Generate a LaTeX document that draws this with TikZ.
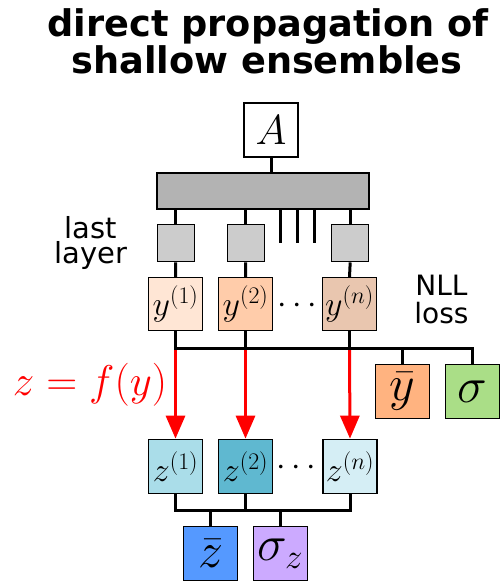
\RequirePackage{fix-cm}
\documentclass[tikz,border=0pt]{standalone}
\usepackage[no-math]{fontspec}
\setmainfont{DejaVu Sans}
\usetikzlibrary{arrows.meta}
\definecolor{ycolA}{HTML}{FFE6D5}
\definecolor{ycolB}{HTML}{FFCCAA}
\definecolor{ycolN}{HTML}{E9C6AF}
\definecolor{ybarcol}{HTML}{FFB380}
\definecolor{sigcol}{HTML}{AADE87}
\definecolor{zcolA}{HTML}{AADDE9}
\definecolor{zcolB}{HTML}{5FB8D0}
\definecolor{zcolN}{HTML}{D5EEF5}
\definecolor{zbarcol}{HTML}{5599FF}
\definecolor{sigzcol}{HTML}{CCAAFF}
\definecolor{barcol}{HTML}{B3B3B3}
\definecolor{smallcol}{HTML}{CCCCCC}
\begin{document}
\begin{tikzpicture}[x=1pt,y=-1pt,
  box/.style={draw=black, line width=1.3pt, minimum width=54pt, minimum height=54pt, inner sep=0pt},
  smallbox/.style={draw=black, line width=1.3pt, fill=smallcol, minimum width=37pt, minimum height=37pt, inner sep=0pt},
  conn/.style={draw=black, line width=3pt, line join=miter},
  redarrow/.style={draw=red, line width=3pt, -{Triangle[length=23pt,width=19pt]}},
  midmath/.style={font=\fontsize{34}{40}\selectfont},
  bigmath/.style={font=\fontsize{50}{60}\selectfont},
  lbl/.style={anchor=north, inner sep=0pt, align=center}]
\useasboundingbox (0,0) rectangle (501,581);

% title
\node[anchor=base, font=\fontsize{36.7}{36.7}\bfseries\selectfont] (title1) at (268,36.7) {direct propagation of};
\node[anchor=base, font=\fontsize{36.7}{36.7}\bfseries\selectfont] (title2) at (267,73.3) {shallow ensembles};

% top
\node[box, fill=white, font=\fontsize{42}{50}\selectfont] (A) at (271,130) {$A$};
\node[draw=black, line width=1.3pt, fill=barcol, minimum width=212pt, minimum height=36pt, inner sep=0pt] (bar) at (263,191) {};
\node[smallbox] (g1) at (175.7,243.3) {};
\node[smallbox] (g2) at (245.7,243.3) {};
\node[smallbox] (g3) at (350.2,243.3) {};
\coordinate (t1) at (280,243.3);
\coordinate (t2) at (297.3,243.3);
\coordinate (t3) at (314.3,243.3);

\node[box, fill=ycolA, minimum height=53pt, midmath] (y1) at (175.5,304) {$y^{(1)}$};
\node[box, fill=ycolB, minimum height=53pt, midmath] (y2) at (245.5,304) {$y^{(2)}$};
\node[box, fill=ycolN, minimum height=53pt, midmath] (yn) at (349.5,304) {$y^{(n)}$};
\node[midmath, anchor=base] (dotsy) at (297.5,313.5) {$\cdots$};

\node[lbl, font=\fontsize{29}{25}\selectfont] (lastlayer) at (90.8,216.7) {last\\layer};
\node[lbl, font=\fontsize{28}{28}\selectfont] (nllloss) at (441.5,274.6) {NLL\\loss};

\node[box, fill=ybarcol, bigmath] (ybar) at (402.7,391.7) {$\bar{y}$};
\node[box, fill=sigcol, bigmath] (sig) at (472.3,391.7) {$\sigma$};

\node[anchor=base, text=red, font=\fontsize{43}{50}\selectfont] (fy) at (90,395.5) {$z = f(y)$};

\node[box, fill=zcolA, midmath] (z1) at (175.5,466.3) {$z^{(1)}$};
\node[box, fill=zcolB, midmath] (z2) at (245.5,466.3) {$z^{(2)}$};
\node[box, fill=zcolN, midmath] (zn) at (350,466.3) {$z^{(n)}$};
\node[midmath, anchor=base] (dotsz) at (296,475.5) {$\cdots$};

\node[box, fill=zbarcol, bigmath] (zbar) at (210.5,553.7) {$\bar{z}$};
\node[box, fill=sigzcol, bigmath] (sigz) at (280.3,553.7) {$\sigma_z$};

\coordinate (hl1) at (175.5,348.3);
\coordinate (hl2) at (175.5,510.3);

% red arrows
\draw[redarrow] (y1.south |- hl1) -- (z1.north);
\draw[redarrow] (y2.south |- hl1) -- (z2.north);
\draw[redarrow] (yn.south |- hl1) -- (zn.north);

% connectors
\draw[conn] (A.south) -- (A.south |- bar.north);
\draw[conn] (g1.north |- bar.south) -- (g1.north);
\draw[conn] (g2.north |- bar.south) -- (g2.north);
\draw[conn] (g3.north |- bar.south) -- (g3.north);
\draw[conn] (t1 |- bar.south) -- (t1);
\draw[conn] (t2 |- bar.south) -- (t2);
\draw[conn] (t3 |- bar.south) -- (t3);
\draw[conn] (g1.south) -- (y1.north);
\draw[conn] (g2.south) -- (y2.north);
\draw[conn] (g3.south) -- (yn.north);

\draw[conn] (y1.south) |- (sig.north |- hl1) -- (sig.north);
\draw[conn] (y2.south) -- (y2.south |- hl1);
\draw[conn] (yn.south) -- (yn.south |- hl1);
\draw[conn] (ybar.north) -- (ybar.north |- hl1);

\draw[conn] (z1.south) |- (zn.south |- hl2) -- (zn.south);
\draw[conn] (z2.south) -- (z2.south |- hl2);
\draw[conn] (zbar.north) -- (zbar.north |- hl2);
\draw[conn] (sigz.north) -- (sigz.north |- hl2);
\end{tikzpicture}
\end{document}
